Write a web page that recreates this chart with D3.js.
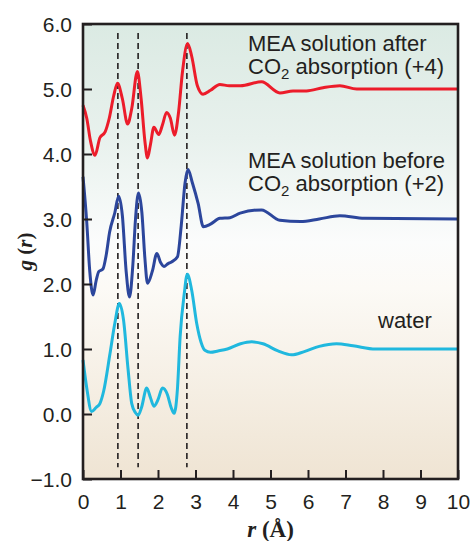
<!DOCTYPE html>
<html>
<head>
<meta charset="utf-8">
<script src="https://cdn.jsdelivr.net/npm/d3@7"></script>
<style>
  body { margin: 0; background: #fff; }
  svg { display: block; }
  .tick text { font-family: "Liberation Sans", Arial, sans-serif; font-size: 21px; fill: #231f20; }
  .note { font-family: "Liberation Sans", Arial, sans-serif; font-size: 22px; fill: #231f20; }
  .axlabel { font-family: "Liberation Serif", "DejaVu Serif", serif; font-weight: bold; fill: #231f20; }
</style>
</head>
<body>
<svg id="chart" width="472" height="541"></svg>
<script>
// values
var waterR = [0, 0.1, 0.23, 0.35, 0.45, 0.55, 0.72, 0.85, 0.97, 1.08, 1.2, 1.3, 1.4, 1.47, 1.56, 1.7, 1.8, 1.89, 2.0, 2.12, 2.25, 2.35, 2.43, 2.52, 2.59, 2.7, 2.78, 2.9, 3.03, 3.15, 3.25, 3.4, 3.6, 3.85, 4.2, 4.5, 4.8, 5.2, 5.56, 5.9, 6.3, 6.76, 7.2, 7.8, 8.5, 10];
var waterG = [0.83, 0.40, 0.04, 0.10, 0.16, 0.35, 0.93, 1.40, 1.70, 1.45, 0.70, 0.16, 0.02, -0.02, 0.10, 0.40, 0.25, 0.12, 0.22, 0.40, 0.30, 0.10, 0.01, 0.40, 1.19, 1.85, 2.15, 1.90, 1.40, 1.10, 0.98, 0.95, 0.97, 1.00, 1.08, 1.11, 1.08, 0.97, 0.91, 0.96, 1.04, 1.08, 1.05, 1.0, 1.0, 1.0];

var beforeR = [0, 0.1, 0.18, 0.27, 0.35, 0.42, 0.53, 0.62, 0.71, 0.85, 0.95, 1.05, 1.15, 1.24, 1.33, 1.4, 1.48, 1.57, 1.65, 1.72, 1.85, 1.97, 2.07, 2.16, 2.26, 2.36, 2.52, 2.62, 2.72, 2.8, 2.92, 3.07, 3.21, 3.4, 3.65, 3.92, 4.19, 4.76, 5.25, 5.8, 6.3, 6.85, 7.5, 10];
var beforeG = [3.65, 2.95, 2.20, 1.83, 2.05, 2.19, 2.23, 2.45, 2.80, 3.10, 3.35, 3.05, 2.20, 1.80, 2.30, 3.00, 3.40, 3.10, 2.40, 2.01, 2.20, 2.47, 2.33, 2.27, 2.31, 2.34, 2.42, 2.90, 3.55, 3.76, 3.55, 3.24, 2.88, 2.92, 3.01, 3.02, 3.09, 3.14, 2.98, 2.96, 3.0, 3.05, 3.01, 3.0];

var afterR = [0, 0.1, 0.2, 0.32, 0.45, 0.59, 0.7, 0.82, 0.92, 1.05, 1.19, 1.3, 1.45, 1.55, 1.65, 1.72, 1.8, 1.89, 2.02, 2.12, 2.23, 2.33, 2.44, 2.55, 2.65, 2.79, 2.9, 3.05, 3.2, 3.4, 3.65, 3.9, 4.2, 4.76, 5.25, 5.6, 5.96, 6.4, 6.85, 7.3, 8, 10];
var afterG = [4.75, 4.55, 4.20, 3.98, 4.25, 4.34, 4.55, 4.90, 5.09, 4.85, 4.46, 4.70, 5.27, 4.85, 4.20, 3.94, 4.15, 4.41, 4.30, 4.45, 4.64, 4.55, 4.29, 4.65, 5.25, 5.70, 5.50, 5.05, 4.92, 4.98, 5.07, 5.05, 5.05, 5.11, 4.94, 4.97, 4.97, 5.02, 5.05, 5.0, 5.0, 5.0];

var peakR = [0.93, 1.47, 2.77];   // dashed guide lines
var xTicks = [0, 1, 2, 3, 4, 5, 6, 7, 8, 9, 10];
var yTicks = [-1, 0, 1, 2, 3, 4, 5, 6];

var margin = {left: 83, right: 14, top: 24, bottom: 62};
var W = 472, H = 541;
var svg = d3.select("#chart");

var x = d3.scaleLinear().domain([0, 10]).range([margin.left, W - margin.right]);
var y = d3.scaleLinear().domain([-1, 6]).range([H - margin.bottom, margin.top]);

/* background gradient */
var defs = svg.append("defs");
var grad = defs.append("linearGradient").attr("id", "bg")
  .attr("x1", 0).attr("y1", 0).attr("x2", 0).attr("y2", 1);
grad.append("stop").attr("offset", "0%").attr("stop-color", "#dbeae3");
grad.append("stop").attr("offset", "25%").attr("stop-color", "#e8f1ed");
grad.append("stop").attr("offset", "48%").attr("stop-color", "#fbfcfc");
grad.append("stop").attr("offset", "58%").attr("stop-color", "#fcfaf6");
grad.append("stop").attr("offset", "100%").attr("stop-color", "#efe4d3");

svg.append("rect")
  .attr("x", x(0)).attr("y", y(6))
  .attr("width", x(10) - x(0)).attr("height", y(-1) - y(6))
  .attr("fill", "url(#bg)");

/* dashed guides */
svg.append("g").selectAll("line")
  .data(peakR).enter().append("line")
  .attr("x1", function(d) { return x(d); })
  .attr("x2", function(d) { return x(d); })
  .attr("y1", y(5.86)).attr("y2", y(-0.82))
  .attr("stroke", "#231f20")
  .attr("stroke-width", 1.6)
  .attr("stroke-dasharray", "6,4");

/* curves */
var line = d3.line()
  .x(function(d) { return x(d[0]); })
  .y(function(d) { return y(d[1]); })
  .curve(d3.curveMonotoneX);

var series = [
  {r: waterR, g: waterG, color: "#20b8de"},
  {r: beforeR, g: beforeG, color: "#2c469c"},
  {r: afterR, g: afterG, color: "#ec1c2a"}
];

svg.append("g").selectAll("path")
  .data(series).enter().append("path")
  .attr("d", function(s) { return line(d3.zip(s.r, s.g)); })
  .attr("fill", "none")
  .attr("stroke", function(s) { return s.color; })
  .attr("stroke-width", 3)
  .attr("stroke-linejoin", "round");

/* axes */
var xAxis = d3.axisBottom(x).tickValues(xTicks).tickSize(-9).tickPadding(18)
  .tickFormat(d3.format("d"));
var gx = svg.append("g").attr("transform", "translate(0," + y(-1) + ")").call(xAxis);

var yAxis = d3.axisLeft(y).tickValues(yTicks).tickSize(-9).tickPadding(11)
  .tickFormat(function(d) { return d3.format(".1f")(d).replace("-", "\u2212"); });
var gy = svg.append("g").attr("transform", "translate(" + x(0) + ",0)").call(yAxis);

[gx, gy].forEach(function(g) {
  g.select(".domain").remove();
  g.selectAll(".tick line").attr("stroke", "#231f20").attr("stroke-width", 2);
});
gx.selectAll(".tick text").attr("dy", "0.55em");
gy.selectAll(".tick text").attr("dy", "0.35em");

/* frame */
svg.append("rect")
  .attr("x", x(0)).attr("y", y(6))
  .attr("width", x(10) - x(0)).attr("height", y(-1) - y(6))
  .attr("fill", "none").attr("stroke", "#231f20").attr("stroke-width", 2.6);

/* annotations */
function note(xp, yp, parts) {
  var t = svg.append("text").attr("class", "note").attr("x", xp).attr("y", yp);
  parts.forEach(function(p) {
    var ts = t.append("tspan").text(p.t);
    if (p.sub) ts.attr("font-size", "15px").attr("dy", 5);
    if (p.up) ts.attr("dy", -5);
  });
}
note(248, 51, [{t: "MEA solution after"}]);
note(248, 74, [{t: "CO"}, {t: "2", sub: true}, {t: " absorption (+4)", up: true}]);
note(248, 168, [{t: "MEA solution before"}]);
note(248, 191, [{t: "CO"}, {t: "2", sub: true}, {t: " absorption (+2)", up: true}]);
note(378, 328, [{t: "water"}]);

/* axis titles */
var yl = svg.append("text").attr("class", "axlabel")
  .attr("transform", "translate(32," + ((y(6) + y(-1)) / 2) + ") rotate(-90)")
  .attr("text-anchor", "middle").attr("font-size", "21px");
yl.append("tspan").attr("font-style", "italic").text("g");
yl.append("tspan").text(" (");
yl.append("tspan").attr("font-style", "italic").text("r");
yl.append("tspan").text(")");

var xl = svg.append("text").attr("class", "axlabel")
  .attr("x", (x(0) + x(10)) / 2).attr("y", 537)
  .attr("text-anchor", "middle").attr("font-size", "23px");
xl.append("tspan").attr("font-style", "italic").text("r");
xl.append("tspan").text(" (\u00c5)");
</script>
</body>
</html>
